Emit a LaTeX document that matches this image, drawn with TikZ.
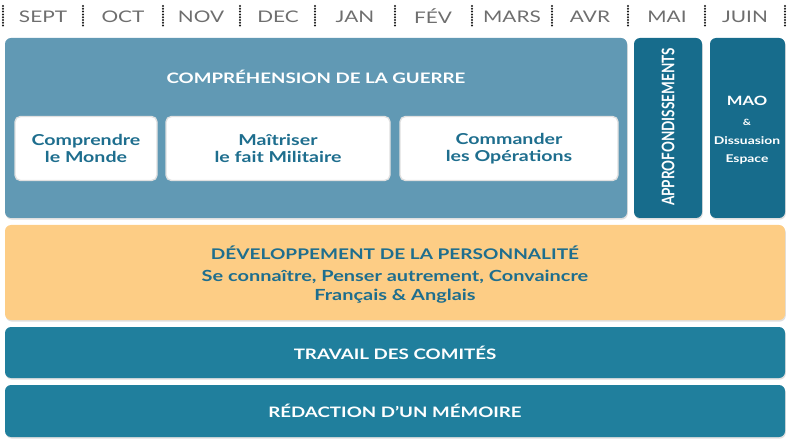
\documentclass[tikz,border=0pt]{standalone}
\usepackage{fontspec}
\setmainfont{Lato}[FakeStretch=1.3]
\newfontfamily\plainlato{Lato}
\usetikzlibrary{shadows}
\definecolor{steel}{HTML}{6199B4}
\definecolor{deepteal}{HTML}{176C8C}
\definecolor{midteal}{HTML}{207F9D}
\definecolor{sand}{HTML}{FDCD85}
\definecolor{inktext}{HTML}{1E6E8E}
\definecolor{monthgray}{HTML}{6E6E6E}
\tikzset{
  panel/.style={rounded corners=4.5pt, inner sep=0pt,
    drop shadow={shadow xshift=0.6pt, shadow yshift=-1.2pt, opacity=0.25}},
  whitebox/.style={rounded corners=4pt, fill=white, draw=black!12, line width=1pt,
    inner sep=0pt, align=center, text=inktext, font=\bfseries\fontsize{11.3}{13.2}\selectfont},
  whitelabel/.style={text=white, font=\bfseries\fontsize{10.8}{12}\selectfont},
  monthlabel/.style={text=monthgray, font=\fontsize{12}{13}\selectfont},
  sepline/.style={draw=black!90, line width=1.7pt, line cap=round, dash pattern=on 0pt off 2.1pt},
}
\begin{document}
\begin{tikzpicture}[x=0.75pt, y=-0.75pt]
\useasboundingbox (0,0) rectangle (792,445);
% months
\foreach \xx in {3,83,163,240,315,395,472,552,628,705,785}
  \draw[sepline] (\xx,6) -- (\xx,27);
\foreach \name/\xx [count=\i] in {SEPT/43, OCT/123, NOV/201, DEC/278, JAN/355, FÉV/433, MARS/512, AVR/590, MAI/667, JUIN/745}
  \node[monthlabel] (m\i) at (\xx,16.5) {\name};
% big panels
\node[panel, fill=steel, minimum width=466.5pt, minimum height=135pt] (guerre) at (316,128) {};
\node[panel, fill=deepteal, minimum width=51pt, minimum height=135pt] (appro) at (668,128) {};
\node[panel, fill=deepteal, minimum width=56.25pt, minimum height=135pt] (mao) at (747.5,128) {};
\node[panel, fill=sand, minimum width=585pt, minimum height=71.25pt] (perso) at (395,272.5) {};
\node[panel, fill=midteal, minimum width=585pt, minimum height=38.25pt] (comites) at (395,352.5) {};
\node[panel, fill=midteal, minimum width=585pt, minimum height=39pt] (memoire) at (395,411) {};
% title of guerre
\node[whitelabel] (guerretitle) at (316,77) {COMPRÉHENSION DE LA GUERRE};
% white boxes
\node[whitebox, minimum width=106.5pt, minimum height=48pt] (monde) at (86,148.5) {Comprendre\\le Monde};
\node[whitebox, minimum width=168pt, minimum height=48pt] (militaire) at (278,148.5) {Maîtriser\\le fait Militaire};
\node[whitebox, minimum width=163.5pt, minimum height=48pt] (operations) at (509,148.5) {Commander\\les Opérations};
% appro
\node[rotate=90, text=white, font=\plainlato\bfseries\fontsize{13}{14}\selectfont] (approtext) at (668,127) {\scalebox{0.78}[1]{APPROFONDISSEMENTS}};
% mao
\node[text=white, font=\bfseries\fontsize{9.6}{12}\selectfont] (maotext) at (747,101) {MAO};
\node[text=white, font=\bfseries\fontsize{6.5}{7}\selectfont] (amp) at (747,122) {\&};
\node[text=white, font=\bfseries\fontsize{8}{9}\selectfont] (diss) at (747,141) {Dissuasion};
\node[text=white, font=\bfseries\fontsize{8}{9}\selectfont] (espace) at (747,160) {Espace};
% perso
\node[text=inktext, font=\bfseries\fontsize{11}{13}\selectfont] (persotitle) at (395,253) {DÉVELOPPEMENT DE LA PERSONNALITÉ};
\node[text=inktext, font=\bfseries\fontsize{11.5}{13}\selectfont] (persoline1) at (395,277) {Se connaître, Penser autrement, Convaincre};
\node[text=inktext, font=\bfseries\fontsize{11.5}{13}\selectfont] (persoline2) at (395,296) {Français \& Anglais};
% bottom bars
\node[whitelabel] (comitestext) at (395,353) {TRAVAIL DES COMITÉS};
\node[whitelabel] (memoiretext) at (395,411) {RÉDACTION D’UN MÉMOIRE};
\end{tikzpicture}
\end{document}
